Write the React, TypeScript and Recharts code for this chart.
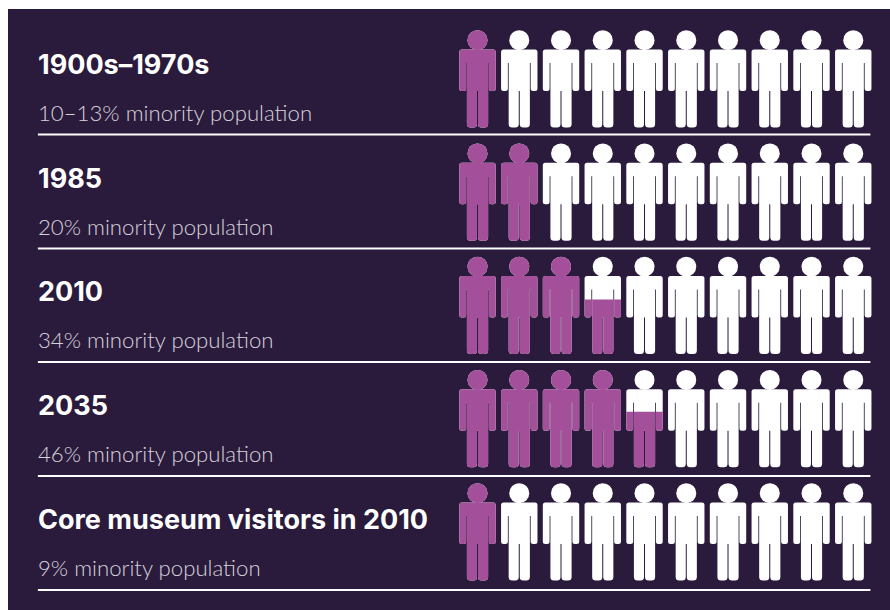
import React from 'react';
import { ScatterChart, Scatter, XAxis, YAxis, ReferenceLine } from 'recharts';

const periods = ['1900s–1970s', '1985', '2010', '2035', 'Core museum visitors in 2010'];
const shareLabels = [
  '10–13% minority population',
  '20% minority population',
  '34% minority population',
  '46% minority population',
  '9% minority population',
];
// how many of the ten figures are coloured in each row, the fraction is a part-filled figure
const colouredFigures = [1, 2, 3.56, 4.57, 1];
const figureSlots = [1, 2, 3, 4, 5, 6, 7, 8, 9, 10];

const points = periods.flatMap((_, row) =>
  figureSlots.map((slot) => ({
    slot,
    row,
    fill: Math.max(0, Math.min(1, colouredFigures[row] - (slot - 1))),
  })),
);

const WIDTH = 882;
const HEIGHT = 601;
const BG = '#2a1b3d';
const PURPLE = '#a34f9a';
const WHITE = '#ffffff';

// slot axis: one unit per figure, row axis: one unit per row
const slotDomain = [-10.246, 10.88];
const rowDomain = [-0.618, 4.689];
const ruleRows = [0.49, 1.497, 2.499, 3.506, 4.512];

const BODY =
  'M-15.7,-29.5 H15.7 Q18.2,-29.5 18.2,-27 V9.5 Q18.2,12 15.7,12 H13.9 Q11.4,12 11.4,9.5 V-16 H10.6 ' +
  'V45 Q10.6,48.5 7,48.5 H4 Q0.5,48.5 0.5,45 V12 H-0.5 V45 Q-0.5,48.5 -4,48.5 H-7 ' +
  'Q-10.6,48.5 -10.6,45 V-16 H-11.4 V9.5 Q-11.4,12 -13.9,12 H-15.7 Q-18.2,12 -18.2,9.5 V-27 Q-18.2,-29.5 -15.7,-29.5 Z';

const Person = ({ cx, cy, payload }: any) => {
  const { slot, row, fill } = payload;
  const id = `fill-${row}-${slot}`;
  const top = 48.5 - fill * 97.5;
  return (
    <g transform={`translate(${cx},${cy})`}>
      <clipPath id={id}>
        <rect x={-20} y={top} width={40} height={48.5 - top + 1} />
      </clipPath>
      <circle cx={0} cy={-38.8} r={10} fill={WHITE} />
      <path d={BODY} fill={WHITE} />
      {fill > 0 && (
        <g clipPath={`url(#${id})`}>
          <circle cx={0} cy={-38.8} r={10} fill={PURPLE} />
          <path d={BODY} fill={PURPLE} />
        </g>
      )}
    </g>
  );
};

// text rows sit on a slightly wider pitch than the figures
const RowLabel = ({ y, payload }: any) => {
  const baseY = y + payload.value * 0.5;
  return (
    <g>
      <text x={30} y={baseY - 5} fill={WHITE} fontSize={27} fontWeight={700} fontFamily="Inter, sans-serif">
        {periods[payload.value]}
      </text>
      <text x={30} y={baseY + 42} fill="#d6d2da" fontSize={22.2} fontWeight={300} fontFamily="Lato, sans-serif">
        {shareLabels[payload.value]}
      </text>
    </g>
  );
};

export default function App() {
  return (
    <div style={{ position: 'fixed', left: 8, top: 9, width: WIDTH, height: HEIGHT, background: BG, overflow: 'hidden' }}>
      <ScatterChart width={WIDTH} height={HEIGHT} margin={{ top: 0, right: 0, bottom: 0, left: 0 }}>
        <XAxis type="number" dataKey="slot" domain={slotDomain} hide />
        <YAxis
          type="number"
          dataKey="row"
          domain={rowDomain}
          reversed
          mirror
          width={1}
          ticks={[0, 1, 2, 3, 4]}
          interval={0}
          axisLine={false}
          tickLine={false}
          tick={RowLabel}
        />
        {ruleRows.map((ruleRow) => (
          <ReferenceLine
            key={ruleRow}
            stroke={WHITE}
            strokeWidth={2}
            segment={[
              { x: -9.53, y: ruleRow },
              { x: 10.41, y: ruleRow },
            ]}
          />
        ))}
        <Scatter data={points} shape={Person} isAnimationActive={false} />
      </ScatterChart>
    </div>
  );
}
